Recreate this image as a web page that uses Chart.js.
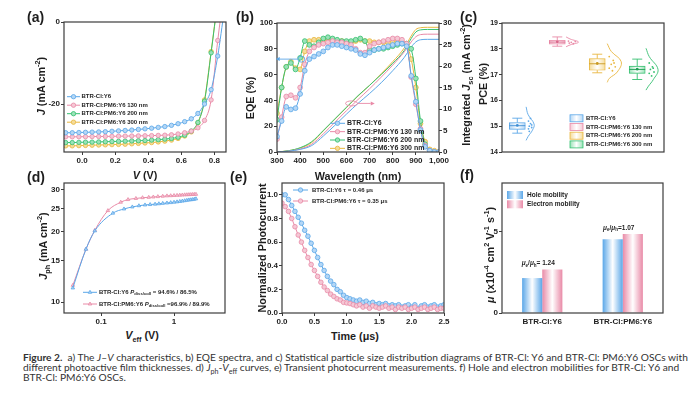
<!DOCTYPE html>
<html lang="en">
<head>
<meta charset="UTF-8">
<title>Figure 2</title>
<script src="https://cdn.jsdelivr.net/npm/chart.js@4"></script>
<style>
    body {
        margin: 0;
        width: 700px;
        height: 396px;
        position: relative;
        overflow: hidden;
        background: #fff;
        font-family: 'Liberation Sans', Arial, sans-serif;
        color: #1e1e1e;
    }
    canvas { position: absolute; }

    /* panel letters */
    .lbl {
        position: absolute;
        font-weight: bold;
        font-size: 14px;
        line-height: 14px;
    }

    /* axis titles */
    .t {
        position: absolute;
        font-weight: bold;
        font-size: 10.8px;
        line-height: 12px;
        white-space: nowrap;
        transform: translate(-50%, -50%);
    }
    .t.v { transform: translate(-50%, -50%) rotate(-90deg); }
    .t sub, .t sup { font-size: 0.68em; line-height: 0; }

    #caption {
        position: absolute;
        left: 23px;
        top: 352px;
        font-family: Lato, 'Open Sans', sans-serif;
        font-size: 8.6px;
        line-height: 10px;
        color: #333;
    }
    #caption div { white-space: nowrap; }
    #caption sub { font-size: 0.7em; line-height: 0; }
</style>
</head>
<body>
<canvas id="chartA"></canvas>
<canvas id="chartB"></canvas>
<canvas id="chartC"></canvas>
<canvas id="chartD"></canvas>
<canvas id="chartE"></canvas>
<canvas id="chartF"></canvas>

<div class="lbl" style="left:27px;top:10px">(a)</div>
<div class="lbl" style="left:236px;top:10px">(b)</div>
<div class="lbl" style="left:460px;top:10px">(c)</div>
<div class="lbl" style="left:27px;top:170px">(d)</div>
<div class="lbl" style="left:230px;top:170px">(e)</div>
<div class="lbl" style="left:460px;top:168px">(f)</div>

<div class="t v" style="left:41px;top:86px"><i>J</i> (mA cm<sup>-2</sup>)</div>
<div class="t" style="left:145px;top:175px"><i>V</i> (V)</div>
<div class="t v" style="left:250px;top:98px">EQE (%)</div>
<div class="t v" style="left:466px;top:85px">Integrated <i>J</i><sub>sc</sub> (mA cm<sup>-2</sup>)</div>
<div class="t" style="left:358px;top:176px">Wavelength (nm)</div>
<div class="t v" style="left:483px;top:84px">PCE (%)</div>
<div class="t v" style="left:43px;top:246px"><i>J</i><sub>ph</sub> (mA cm<sup>-2</sup>)</div>
<div class="t" style="left:142px;top:335px"><i>V</i><sub>eff</sub> (V)</div>
<div class="t v" style="left:262px;top:248px">Normalized Photocurrent</div>
<div class="t" style="left:355px;top:336px">Time (μs)</div>
<div class="t v" style="left:490px;top:255px"><i>μ</i> (x10<sup>-4</sup> cm<sup>2</sup> V<sup>-1</sup> s<sup>-1</sup>)</div>

<div id="caption">
    <div><b>Figure 2.</b>&nbsp; a) The <i>J</i>–<i>V</i> characteristics, b) EQE spectra, and c) Statistical particle size distribution diagrams of BTR-Cl: Y6 and BTR-Cl: PM6:Y6 OSCs with</div>
    <div>different photoactive film thicknesses. d) <i>J</i><sub>ph</sub>-<i>V</i><sub>eff</sub> curves, e) Transient photocurrent measurements. f) Hole and electron mobilities for BTR-Cl: Y6 and</div>
    <div>BTR-Cl: PM6:Y6 OSCs.</div>
</div>

<script>
    // ---------- data ----------
    // (a) J-V curves
    const jvNames = ['BTR-Cl:Y6', 'BTR-Cl:PM6:Y6 130 nm', 'BTR-Cl:PM6:Y6 200 nm', 'BTR-Cl:PM6:Y6 300 nm'];
    const jvVoltage = [-0.10, -0.06, -0.02, 0.02, 0.06, 0.10, 0.14, 0.18, 0.22, 0.26, 0.30, 0.34, 0.38, 0.42, 0.46, 0.50, 0.54, 0.58, 0.62, 0.66, 0.70, 0.74, 0.78, 0.82, 0.86];
    const jvY6 = [-27.0, -27.0, -26.95, -26.9, -26.85, -26.8, -26.75, -26.65, -26.55, -26.45, -26.35, -26.2, -26.05, -25.9, -25.7, -25.5, -25.2, -24.8, -24.3, -23.6, -22.3, -20.0, -16.5, -8.3, 3.0];
    const jv130 = [-28.0, -28.0, -27.98, -27.96, -27.94, -27.92, -27.9, -27.88, -27.85, -27.82, -27.8, -27.77, -27.74, -27.7, -27.65, -27.6, -27.5, -27.3, -27.0, -26.6, -25.8, -24.0, -19.0, -4.5, 8.0];
    const jv200 = [-29.4, -29.4, -29.35, -29.3, -29.3, -29.25, -29.2, -29.15, -29.1, -29.05, -29.0, -28.95, -28.9, -28.8, -28.7, -28.55, -28.4, -28.1, -27.6, -26.6, -24.5, -19.3, -7.5, 5.0, 15.0];
    const jv300 = [-30.2, -30.2, -30.15, -30.1, -30.05, -30.0, -29.95, -29.9, -29.85, -29.8, -29.7, -29.6, -29.5, -29.4, -29.25, -29.05, -28.8, -28.4, -27.8, -26.8, -24.6, -19.0, -7.2, 5.0, 15.0];

    // (b) EQE and integrated Jsc
    const eqeWavelength = [300, 320, 340, 360, 380, 400, 420, 440, 460, 480, 500, 520, 540, 560, 580, 600, 620, 640, 660, 680, 700, 720, 740, 760, 780, 800, 820, 840, 860, 880, 900, 920, 940, 960, 980, 1000];
    const eqeY6 = [12, 24, 35, 33, 34, 45, 63, 72, 74, 76, 78, 81, 83, 83, 82, 81, 80, 79, 76, 75, 77, 79, 80, 81, 82, 83, 84, 84, 82, 59, 39, 17, 4, 1, 0, 0];
    const eqe130 = [10, 27, 43, 44, 42, 50, 68, 78, 81, 83, 84, 85, 86, 85, 85, 84, 83, 80, 77, 77, 82, 84, 85, 86, 87, 88, 88, 87, 84, 58, 37, 18, 5, 1, 0, 0];
    const eqe200 = [25, 50, 66, 69, 64, 73, 86, 83, 82, 85, 88, 89, 88, 87, 86, 86, 86, 87, 88, 86, 79, 79, 80, 80, 81, 82, 83, 84, 84, 80, 57, 24, 6, 1, 0, 0];
    const eqe300 = [30, 50, 66, 70, 65, 64, 78, 86, 87, 87, 87, 88, 87, 86, 86, 85, 85, 86, 87, 86, 86, 85, 85, 85, 85, 85, 86, 85, 83, 72, 50, 22, 8, 2, 1, 0];
    const jscWavelength = [300, 350, 400, 450, 500, 550, 600, 650, 700, 750, 800, 850, 880, 900, 920, 950, 1000];
    const jscY6 = [0, 0.2, 0.6, 1.5, 3.7, 6.2, 8.8, 11.3, 13.6, 16.1, 18.9, 22.0, 24.4, 25.6, 26.1, 26.2, 26.2];
    const jsc130 = [0, 0.2, 0.7, 1.8, 4.2, 6.9, 9.6, 12.2, 14.7, 17.4, 20.2, 23.3, 25.6, 26.8, 27.3, 27.4, 27.4];
    const jsc200 = [0, 0.3, 1.0, 2.4, 5.0, 7.7, 10.4, 13.1, 15.5, 18.0, 20.6, 23.6, 26.4, 27.9, 28.4, 28.5, 28.5];
    const jsc300 = [0, 0.3, 0.9, 2.2, 4.9, 7.6, 10.3, 13.0, 15.5, 18.2, 21.0, 24.2, 27.0, 28.5, 28.9, 29.0, 29.0];

    // (c) PCE statistics
    const pceQ1 = [14.88, 18.18, 17.17, 17.05];
    const pceQ3 = [15.14, 18.33, 17.62, 17.33];
    const pceMedian = [15.02, 18.26, 17.42, 17.2];
    const pceMean = [15.03, 18.27, 17.43, 17.21];
    const pceLow = [14.73, 18.10, 17.07, 16.81];
    const pceHigh = [15.31, 18.46, 17.79, 17.60];
    const violinY6 = [[1.22, 15.75], [1.27, 15.45], [1.42, 15.08], [1.38, 14.85], [1.27, 14.6], [1.22, 14.45]];
    const violin130 = [[2.22, 18.46], [2.32, 18.38], [2.53, 18.26], [2.32, 18.15], [2.22, 18.08]];
    const violin200 = [[3.25, 18.2], [3.35, 17.9], [3.6, 17.5], [3.5, 17.1], [3.3, 16.85], [3.25, 16.7]];
    const violin300 = [[4.22, 18.02], [4.3, 17.7], [4.52, 17.2], [4.4, 16.8], [4.28, 16.55], [4.22, 16.4]];
    const dotsY6 = [[1.28, 15.2], [1.33, 15.1], [1.3, 15.0], [1.36, 14.95], [1.28, 14.9], [1.33, 15.3], [1.3, 14.8], [1.36, 15.05]];
    const dots130 = [[2.28, 18.3], [2.35, 18.25], [2.4, 18.2], [2.3, 18.22], [2.45, 18.28]];
    const dots200 = [[3.3, 17.7], [3.4, 17.55], [3.35, 17.4], [3.45, 17.3], [3.3, 17.25], [3.38, 17.15], [3.42, 17.45]];
    const dots300 = [[4.3, 17.45], [4.38, 17.3], [4.33, 17.2], [4.42, 17.1], [4.3, 17.05], [4.36, 16.95], [4.4, 17.25]];

    // (d) Jph - Veff
    const jphNames = ['BTR-Cl:Y6 *P*_{diss/coll} = 94.6% / 86.5%', 'BTR-Cl:PM6:Y6 *P*_{diss/coll} =96.9% / 89.9%'];
    const veffY6 = [0.041, 0.062, 0.082, 0.145, 0.206, 0.268, 0.33, 0.4, 0.47, 0.55, 0.62, 0.7, 0.8, 0.9, 1.0, 1.1, 1.2, 1.3, 1.4, 1.5, 1.6, 1.7, 1.8, 1.9, 2.0];
    const jphY6 = [11.5, 16.8, 20.1, 23.9, 24.9, 25.4, 25.7, 25.9, 26.0, 26.1, 26.2, 26.3, 26.4, 26.5, 26.6, 26.7, 26.8, 26.9, 27.0, 27.1, 27.2, 27.25, 27.3, 27.4, 27.5];
    const veffPM6 = [0.041, 0.062, 0.082, 0.124, 0.186, 0.234, 0.3, 0.37, 0.45, 0.52, 0.6, 0.7, 0.8, 0.9, 1.0, 1.1, 1.2, 1.3, 1.4, 1.5, 1.6, 1.7, 1.8, 1.9, 2.0];
    const jphPM6 = [11.8, 16.8, 20.2, 24.5, 26.6, 27.3, 27.6, 27.8, 27.9, 28.0, 28.1, 28.2, 28.3, 28.35, 28.4, 28.45, 28.5, 28.55, 28.6, 28.62, 28.65, 28.67, 28.7, 28.72, 28.75];

    // (e) transient photocurrent
    const tpcNames = ['BTR-Cl:Y6 τ = 0.46 μs', 'BTR-Cl:PM6:Y6 τ = 0.35 μs'];
    const tpcTime = [0.00, 0.05, 0.10, 0.15, 0.20, 0.25, 0.30, 0.35, 0.40, 0.45, 0.50, 0.55, 0.60, 0.65, 0.70, 0.75, 0.80, 0.85, 0.90, 0.95, 1.00, 1.05, 1.10, 1.15, 1.20, 1.25, 1.30, 1.35, 1.40, 1.45, 1.50, 1.55, 1.60, 1.65, 1.70, 1.75, 1.80, 1.85, 1.90, 1.95, 2.00, 2.05, 2.10, 2.15, 2.20, 2.25, 2.30, 2.35, 2.40, 2.45, 2.50];
    const tpcY6 = [1.00, 1.00, 0.96, 0.91, 0.86, 0.81, 0.76, 0.70, 0.65, 0.59, 0.53, 0.47, 0.41, 0.36, 0.31, 0.27, 0.24, 0.20, 0.18, 0.15, 0.13, 0.12, 0.11, 0.10, 0.11, 0.09, 0.10, 0.08, 0.09, 0.07, 0.08, 0.07, 0.08, 0.06, 0.07, 0.06, 0.07, 0.05, 0.06, 0.07, 0.05, 0.07, 0.04, 0.06, 0.07, 0.05, 0.06, 0.07, 0.05, 0.06, 0.07];
    const tpcPM6 = [0.93, 0.90, 0.86, 0.80, 0.73, 0.66, 0.60, 0.53, 0.47, 0.41, 0.36, 0.31, 0.26, 0.22, 0.19, 0.16, 0.14, 0.12, 0.11, 0.09, 0.085, 0.08, 0.07, 0.06, 0.07, 0.05, 0.06, 0.04, 0.06, 0.05, 0.04, 0.05, 0.06, 0.04, 0.05, 0.03, 0.05, 0.04, 0.05, 0.03, 0.04, 0.05, 0.03, 0.04, 0.05, 0.03, 0.04, 0.05, 0.03, 0.04, 0.04];

    // (f) mobilities
    const mobCategories = ['BTR-Cl:Y6', 'BTR-Cl:PM6:Y6'];
    const mobHole = [2.15, 4.54];
    const mobElectron = [2.67, 4.86];
    const mobRatio = ['= 1.24', '=1.07'];

    // ---------- style ----------
    const FONT = "'Liberation Sans', Arial, sans-serif";
    const AXIS = '#3c3c3c';
    const INK = '#1e1e1e';
    const BLUE = '#5ba7e8', PINK = '#e98aa7', GREEN = '#36c070', YELLOW = '#e9b73f';
    const BLUE_L = '#b4d7f6', PINK_L = '#f5c8d5', GREEN_L = '#9ae2b8', YELLOW_L = '#f5dc9a';

    Chart.defaults.animation = false;
    Chart.defaults.responsive = false;
    Chart.defaults.events = [];
    Chart.defaults.font.family = FONT;
    Chart.defaults.plugins.legend.display = false;
    Chart.defaults.plugins.tooltip.enabled = false;

    const pts = (xs, ys) => xs.map((x, i) => ({x: x, y: ys[i]}));
    const pairs = list => list.map(p => ({x: p[0], y: p[1]}));

    // text with _{sub}, ^{sup} and *italic* pieces
    function richParts(str) {
        const parts = [];
        const re = /_\{([^}]*)\}|\^\{([^}]*)\}|\*([^*]+)\*|([^_^*]+)/g;
        let m;
        while ((m = re.exec(str))) {
            if (m[1] !== undefined) parts.push({t: m[1], mode: 'sub'});
            else if (m[2] !== undefined) parts.push({t: m[2], mode: 'sup'});
            else if (m[3] !== undefined) parts.push({t: m[3], mode: 'it'});
            else parts.push({t: m[4], mode: ''});
        }
        return parts;
    }

    function drawRich(ctx, str, x, y, size, align) {
        const parts = richParts(str);
        const fontFor = p => (p.mode === 'it' ? 'italic ' : '') + 'bold ' +
            (p.mode === 'sub' || p.mode === 'sup' ? size * 0.7 : size) + 'px ' + FONT;
        let w = 0;
        parts.forEach(p => { ctx.font = fontFor(p); p.w = ctx.measureText(p.t).width; w += p.w; });
        let cx = align === 'center' ? x - w / 2 : x;
        ctx.textAlign = 'left';
        ctx.textBaseline = 'middle';
        parts.forEach(p => {
            ctx.font = fontFor(p);
            const dy = p.mode === 'sub' ? size * 0.3 : p.mode === 'sup' ? -size * 0.35 : 0;
            ctx.fillText(p.t, cx, y + dy);
            cx += p.w;
        });
    }

    function marker(ctx, shape, x, y, r, stroke, fill) {
        ctx.beginPath();
        if (shape === 'triangle') {
            ctx.moveTo(x, y - r);
            ctx.lineTo(x + r * 0.87, y + r / 2);
            ctx.lineTo(x - r * 0.87, y + r / 2);
            ctx.closePath();
        } else {
            ctx.arc(x, y, r, 0, Math.PI * 2);
        }
        ctx.fillStyle = fill;
        ctx.fill();
        ctx.lineWidth = 0.8;
        ctx.strokeStyle = stroke;
        ctx.stroke();
    }

    function shade(ctx, x, w, c) {
        const g = ctx.createLinearGradient(x, 0, x + w, 0);
        g.addColorStop(0, c);
        g.addColorStop(0.5, '#ffffff');
        g.addColorStop(1, c);
        return g;
    }

    // ---------- plugins ----------
    const frame = {
        id: 'frame',
        afterDatasetsDraw(chart) {
            const {ctx, chartArea: a} = chart;
            ctx.save();
            ctx.strokeStyle = AXIS;
            ctx.lineWidth = 1.2;
            ctx.strokeRect(a.left, a.top, a.right - a.left, a.bottom - a.top);
            ctx.restore();
        }
    };

    const panelLegend = {
        id: 'panelLegend',
        afterDraw(chart, args, o) {
            if (!o.items) return;
            const {ctx, chartArea: a} = chart;
            ctx.save();
            o.items.forEach((it, i) => {
                const x = a.left + o.x;
                const y = a.top + o.y + i * o.dy;
                if (it.shape === 'box') {
                    const h = o.h || 7;
                    ctx.fillStyle = shade(ctx, x, o.w, it.fill);
                    ctx.fillRect(x, y - h / 2, o.w, h);
                    if (it.color) {
                        ctx.strokeStyle = it.color;
                        ctx.lineWidth = 0.8;
                        ctx.strokeRect(x, y - h / 2, o.w, h);
                    }
                } else {
                    ctx.strokeStyle = it.color;
                    ctx.lineWidth = 1;
                    ctx.beginPath();
                    ctx.moveTo(x, y);
                    ctx.lineTo(x + o.w, y);
                    ctx.stroke();
                    marker(ctx, it.marker || 'circle', x + o.w / 2, y, o.r || 2.2, it.color, it.fill);
                }
                ctx.fillStyle = INK;
                drawRich(ctx, it.text, x + o.w + o.gap, y, o.size);
            });
            ctx.restore();
        }
    };

    // gradient fill for bars flagged with "shade"
    const barShade = {
        id: 'barShade',
        beforeDatasetsDraw(chart) {
            const ctx = chart.ctx;
            chart.data.datasets.forEach((ds, di) => {
                if (!ds.shade) return;
                chart.getDatasetMeta(di).data.forEach((el, i) => {
                    const c = Array.isArray(ds.shade) ? ds.shade[i] : ds.shade;
                    const x0 = el.x - el.width / 2;
                    el.options = Object.assign({}, el.options, {backgroundColor: shade(ctx, x0, el.width, c)});
                });
            });
        }
    };

    Chart.register(frame, panelLegend, barShade);

    function axis(o) {
        const base = {
            grid: {display: true, drawOnChartArea: false, drawTicks: true, tickLength: 3, color: AXIS, lineWidth: 1},
            border: {display: false},
            ticks: {color: INK, font: {family: FONT, size: 8, weight: 'bold'}, padding: 1, maxRotation: 0, autoSkip: false}
        };
        return Object.assign({}, base, o, {
            ticks: Object.assign({}, base.ticks, o.ticks || {}),
            grid: Object.assign({}, base.grid, o.grid || {})
        });
    }

    const tickList = list => scale => { scale.ticks = list.map(v => ({value: v})); };

    function fitTo(size) {
        return s => {
            if (s.isHorizontal()) s.height = size; else s.width = size;
            s.paddingLeft = s.paddingRight = s.paddingTop = s.paddingBottom = 0;
        };
    }

    // box = plot area on the page, m = room for ticks around it
    function panel(id, box, m, cfg) {
        const cv = document.getElementById(id);
        const w = box.r - box.l + m.l + m.r;
        const h = box.b - box.t + m.t + m.b;
        cv.width = w;
        cv.height = h;
        cv.style.left = (box.l - m.l) + 'px';
        cv.style.top = (box.t - m.t) + 'px';
        cv.style.width = w + 'px';
        cv.style.height = h + 'px';
        const sc = cfg.options.scales;
        sc.x.afterFit = fitTo(m.b);
        sc.y.afterFit = fitTo(m.l);
        if (sc.y1) sc.y1.afterFit = fitTo(m.r);
        cfg.options.layout = {padding: {left: 0, top: m.t, right: sc.y1 ? 0 : m.r, bottom: 0}};
        return new Chart(cv, cfg);
    }

    function lineSet(xs, ys, color, fill, extra) {
        return Object.assign({
            data: pts(xs, ys),
            borderColor: color,
            backgroundColor: fill,
            pointBackgroundColor: fill,
            pointBorderColor: color,
            pointBorderWidth: 0.8,
            pointRadius: 2.2,
            borderWidth: 1,
            fill: false
        }, extra || {});
    }

    // ---------- (a) ----------
    const jvSeries = [jvY6, jv130, jv200, jv300];
    const fourColors = [BLUE, PINK, GREEN, YELLOW];
    const fourLights = [BLUE_L, PINK_L, GREEN_L, YELLOW_L];

    panel('chartA', {l: 64, t: 22, r: 226, b: 152}, {l: 30, t: 6, r: 10, b: 14}, {
        type: 'line',
        data: {
            datasets: jvSeries.map((s, i) => lineSet(jvVoltage, s, fourColors[i], fourLights[i], {cubicInterpolationMode: 'monotone'}))
        },
        options: {
            scales: {
                x: axis({type: 'linear', min: -0.11, max: 0.87, afterBuildTicks: tickList([0, 0.2, 0.4, 0.6, 0.8]),
                    ticks: {callback: v => v.toFixed(1)}}),
                y: axis({type: 'linear', min: -31.7, max: 0.001, afterBuildTicks: tickList([-20, 0]),
                    ticks: {callback: v => String(Math.round(v))}})
            },
            plugins: {
                panelLegend: {
                    x: 3, y: 74.7, dy: 8.5, w: 13, gap: 1.5, size: 6,
                    items: jvNames.map((n, i) => ({text: n, color: fourColors[i], fill: fourLights[i]}))
                }
            }
        }
    });

    // ---------- (b) ----------
    const eqeSeries = [eqeY6, eqe130, eqe200, eqe300];
    const jscSeries = [jscY6, jsc130, jsc200, jsc300];
    const eqeNote = {from: 405, to: 312, level: 72};
    const jscNote = {from: 622, to: 705, level: 11.3};

    const eqeNotes = {
        id: 'eqeNotes',
        afterDatasetsDraw(chart) {
            const {ctx, scales: {x, y, y1}} = chart;
            ctx.save();
            ctx.lineWidth = 0.9;

            let ax = x.getPixelForValue(eqeNote.from), ay = y.getPixelForValue(eqeNote.level), bx = x.getPixelForValue(eqeNote.to);
            ctx.strokeStyle = BLUE;
            ctx.fillStyle = BLUE;
            ctx.beginPath(); ctx.ellipse(ax, ay, 3.5, 3, 0, 0, Math.PI * 2); ctx.stroke();
            ctx.beginPath(); ctx.moveTo(ax - 3.5, ay); ctx.lineTo(bx, ay); ctx.stroke();
            ctx.beginPath(); ctx.moveTo(bx - 4, ay); ctx.lineTo(bx, ay - 2); ctx.lineTo(bx, ay + 2); ctx.closePath(); ctx.fill();

            ax = x.getPixelForValue(jscNote.from); ay = y1.getPixelForValue(jscNote.level); bx = x.getPixelForValue(jscNote.to);
            ctx.strokeStyle = PINK;
            ctx.fillStyle = PINK;
            ctx.beginPath(); ctx.ellipse(ax, ay, 6, 2.5, 0, 0, Math.PI * 2); ctx.stroke();
            ctx.beginPath(); ctx.moveTo(ax + 6, ay); ctx.lineTo(bx, ay); ctx.stroke();
            ctx.beginPath(); ctx.moveTo(bx + 4, ay); ctx.lineTo(bx, ay - 2); ctx.lineTo(bx, ay + 2); ctx.closePath(); ctx.fill();
            ctx.restore();
        }
    };

    panel('chartB', {l: 277, t: 23, r: 439, b: 152}, {l: 24, t: 6, r: 18, b: 14}, {
        type: 'line',
        data: {
            datasets: [
                ...eqeSeries.map((s, i) => lineSet(eqeWavelength, s, fourColors[i], fourLights[i], {yAxisID: 'y', tension: 0.3, pointRadius: 2.4})),
                ...jscSeries.map((s, i) => lineSet(jscWavelength, s, fourColors[i], fourLights[i], {yAxisID: 'y1', pointRadius: 0, cubicInterpolationMode: 'monotone'}))
            ]
        },
        options: {
            scales: {
                x: axis({type: 'linear', min: 300, max: 1000, afterBuildTicks: tickList([300, 400, 500, 600, 700, 800, 900, 1000])}),
                y: axis({type: 'linear', position: 'left', min: 0, max: 100, afterBuildTicks: tickList([0, 20, 40, 60, 80, 100])}),
                y1: axis({type: 'linear', position: 'right', min: 0, max: 30, afterBuildTicks: tickList([0, 5, 10, 15, 20, 25, 30])})
            },
            plugins: {
                panelLegend: {
                    x: 53, y: 100.3, dy: 8.35, w: 15, gap: 2, size: 7,
                    items: jvNames.map((n, i) => ({text: n, color: fourColors[i], fill: fourLights[i]}))
                }
            }
        },
        plugins: [eqeNotes]
    });

    // ---------- (c) ----------
    const pceColors = [BLUE, PINK, YELLOW, GREEN];
    const pceLights = [BLUE_L, PINK_L, YELLOW_L, GREEN_L];
    const pceDark = ['#3f8fd6', '#d9668a', '#c99a22', '#1f9e55'];
    const violins = [violinY6, violin130, violin200, violin300];
    const pceDots = [dotsY6, dots130, dots200, dots300];

    const boxParts = {
        id: 'boxParts',
        afterDatasetsDraw(chart) {
            const {ctx, scales: {x, y}} = chart;
            ctx.save();
            ctx.lineWidth = 0.9;
            const seg = (x1, y1, x2, y2) => { ctx.beginPath(); ctx.moveTo(x1, y1); ctx.lineTo(x2, y2); ctx.stroke(); };
            pceQ1.forEach((q1, i) => {
                const cx = x.getPixelForValue(i + 1);
                const yq1 = y.getPixelForValue(q1), yq3 = y.getPixelForValue(pceQ3[i]);
                const ylo = y.getPixelForValue(pceLow[i]), yhi = y.getPixelForValue(pceHigh[i]);
                ctx.strokeStyle = pceColors[i];
                seg(cx, yq3, cx, yhi); seg(cx - 5, yhi, cx + 5, yhi);
                seg(cx, yq1, cx, ylo); seg(cx - 5, ylo, cx + 5, ylo);
                ctx.strokeStyle = pceDark[i];
                const ym = y.getPixelForValue(pceMedian[i]);
                seg(cx - 8, ym, cx + 8, ym);
                ctx.fillStyle = pceDark[i];
                ctx.beginPath(); ctx.arc(cx, y.getPixelForValue(pceMean[i]), 1.4, 0, Math.PI * 2); ctx.fill();
            });
            ctx.restore();
        }
    };

    panel('chartC', {l: 502, t: 23, r: 664, b: 152}, {l: 18, t: 6, r: 10, b: 6}, {
        type: 'bar',
        data: {
            datasets: [
                {
                    type: 'bar',
                    data: pceQ1.map((q1, i) => ({x: i + 1, y: [q1, pceQ3[i]]})),
                    barThickness: 16,
                    backgroundColor: pceLights,
                    shade: pceLights,
                    borderColor: pceColors,
                    borderWidth: 0.9,
                    borderSkipped: false
                },
                ...violins.map((v, i) => ({
                    type: 'line', data: pairs(v), borderColor: pceColors[i], borderWidth: 0.9,
                    pointRadius: 0, tension: 0.4, fill: false
                })),
                ...pceDots.map((d, i) => ({
                    type: 'scatter', data: pairs(d), pointRadius: 0.9, pointBorderWidth: 0,
                    pointBackgroundColor: pceColors[i], showLine: false
                }))
            ]
        },
        options: {
            scales: {
                x: axis({type: 'linear', offset: false, min: 0.617, max: 4.67,
                    grid: {drawTicks: false}, ticks: {display: false}}),
                y: axis({type: 'linear', min: 14, max: 19, afterBuildTicks: tickList([14, 15, 16, 17, 18, 19]),
                    ticks: {font: {family: FONT, size: 7, weight: 'bold'}}})
            },
            plugins: {
                panelLegend: {
                    x: 68, y: 95.3, dy: 8.7, w: 13, h: 7, gap: 3, size: 6,
                    items: jvNames.map((n, i) => ({text: n, shape: 'box', color: pceColors[i], fill: pceLights[i]}))
                }
            }
        },
        plugins: [boxParts]
    });

    // ---------- (d) ----------
    panel('chartD', {l: 64, t: 183, r: 225, b: 313}, {l: 30, t: 6, r: 10, b: 14}, {
        type: 'line',
        data: {
            datasets: [
                lineSet(veffY6, jphY6, BLUE, BLUE_L, {pointStyle: 'triangle', pointRadius: 2, cubicInterpolationMode: 'monotone'}),
                lineSet(veffPM6, jphPM6, PINK, PINK_L, {pointStyle: 'triangle', pointRadius: 2, cubicInterpolationMode: 'monotone'})
            ]
        },
        options: {
            scales: {
                x: axis({type: 'logarithmic', min: 0.031, max: 5.0, afterBuildTicks: tickList([0.1, 1]),
                    ticks: {callback: v => String(v)}}),
                y: axis({type: 'logarithmic', min: 9.0, max: 32.1, afterBuildTicks: tickList([10, 15, 20, 25, 30]),
                    ticks: {callback: v => String(v)}})
            },
            plugins: {
                panelLegend: {
                    x: 19, y: 109.3, dy: 11.7, w: 14, gap: 2, size: 6, r: 2,
                    items: jphNames.map((n, i) => ({text: n, color: [BLUE, PINK][i], fill: [BLUE_L, PINK_L][i], marker: 'triangle'}))
                }
            }
        }
    });

    // ---------- (e) ----------
    panel('chartE', {l: 282, t: 183, r: 444, b: 313}, {l: 22, t: 6, r: 10, b: 14}, {
        type: 'line',
        data: {
            datasets: [
                lineSet(tpcTime, tpcPM6, PINK, PINK_L, {pointRadius: 2.3}),
                lineSet(tpcTime, tpcY6, BLUE, BLUE_L, {pointRadius: 2.3})
            ]
        },
        options: {
            scales: {
                x: axis({type: 'linear', min: 0, max: 2.5, afterBuildTicks: tickList([0, 0.5, 1, 1.5, 2, 2.5]),
                    ticks: {callback: v => v.toFixed(1)}}),
                y: axis({type: 'linear', min: 0, max: 1.1, afterBuildTicks: tickList([0, 0.2, 0.4, 0.6, 0.8, 1.0]),
                    ticks: {callback: v => v.toFixed(1)}})
            },
            plugins: {
                panelLegend: {
                    x: 11, y: 7, dy: 11, w: 15, gap: 4, size: 6,
                    items: tpcNames.map((n, i) => ({text: n, color: [BLUE, PINK][i], fill: [BLUE_L, PINK_L][i]}))
                }
            }
        }
    });

    // ---------- (f) ----------
    const ratioLabels = {
        id: 'ratioLabels',
        afterDatasetsDraw(chart) {
            const {ctx, scales: {x, y}} = chart;
            ctx.save();
            ctx.fillStyle = INK;
            mobCategories.forEach((c, i) => {
                const top = Math.max(mobHole[i], mobElectron[i]);
                drawRich(ctx, '*μ*_{e}/*μ*_{h}' + mobRatio[i], x.getPixelForValue(i) - 4, y.getPixelForValue(top) - 6, 6.5, 'center');
            });
            ctx.restore();
        }
    };

    panel('chartF', {l: 502, t: 183, r: 663, b: 313}, {l: 14, t: 6, r: 10, b: 16}, {
        type: 'bar',
        data: {
            labels: mobCategories,
            datasets: [
                {data: mobHole, backgroundColor: BLUE, shade: BLUE, borderWidth: 0, categoryPercentage: 0.5, barPercentage: 1},
                {data: mobElectron, backgroundColor: PINK, shade: PINK, borderWidth: 0, categoryPercentage: 0.5, barPercentage: 1}
            ]
        },
        options: {
            scales: {
                x: axis({type: 'category', grid: {display: false, drawTicks: false},
                    ticks: {padding: 4, font: {family: FONT, size: 8, weight: 'bold'}}}),
                y: axis({type: 'linear', min: 0, max: 8, afterBuildTicks: tickList([0, 5])})
            },
            plugins: {
                panelLegend: {
                    x: 5, y: 12, dy: 9.3, w: 16, h: 8, gap: 4, size: 6.5,
                    items: [
                        {text: 'Hole mobility', shape: 'box', fill: BLUE},
                        {text: 'Electron mobility', shape: 'box', fill: PINK}
                    ]
                }
            }
        },
        plugins: [ratioLabels]
    });

    // stretch caption to the printed line width
    const cap = document.getElementById('caption');
    const first = cap.children[0];
    first.style.display = 'inline-block';
    const w = first.getBoundingClientRect().width;
    first.style.display = '';
    cap.style.fontSize = (8.6 * 665 / w) + 'px';
</script>
</body>
</html>
